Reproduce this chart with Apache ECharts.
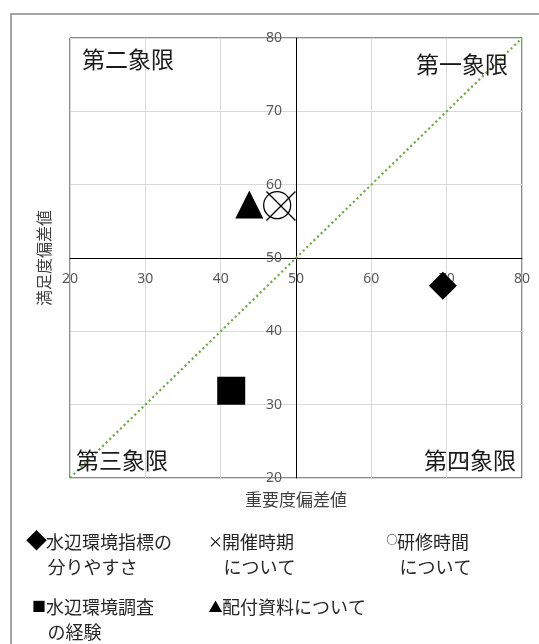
<!DOCTYPE html>
<html>
<head>
<meta charset="utf-8">
<script src="https://cdn.jsdelivr.net/npm/echarts@6/dist/echarts.min.js"></script>
<style>
  html, body { margin: 0; padding: 0; background: #fff; }
  #chart { width: 539px; height: 644px; }
</style>
</head>
<body>
<div id="chart"></div>
<script>
// 系列名と値（重要度偏差値 / 満足度偏差値）
const seriesNames = ["水辺環境指標の分りやすさ", "開催時期について", "研修時間について", "水辺環境調査の経験", "配付資料について"];
const importance = [69.5, 48.0, 47.5, 41.4, 43.8];
const satisfaction = [46.2, 57.1, 57.2, 31.9, 57.3];
const diagonal = [[20, 20], [80, 80]];
const axisMin = 20;
const axisMax = 80;
const axisStep = 10;
const quadrantNames = ["第一象限", "第二象限", "第三象限", "第四象限"];
const legendGlyphs = ["◆", "×", "○", "■", "▲"];
const legendLines = [
  ["水辺環境指標の", "分りやすさ"],
  ["開催時期", "について"],
  ["研修時間", "について"],
  ["水辺環境調査", "の経験"],
  ["配付資料について", ""]
];

const JP = "'Noto Sans CJK JP', 'Noto Sans', sans-serif";
const NUM = "'Noto Sans', 'DejaVu Sans', sans-serif";

const grid = { left: 70, top: 38, width: 452, height: 440 };

const symbols = [
  { symbol: "diamond", size: 28, fill: "#000", stroke: "#000", bw: 0 },
  { symbol: "path://M0,0L10,10M10,0L0,10", size: 29, fill: "none", stroke: "#000", bw: 1.3 },
  { symbol: "circle", size: 27, fill: "none", stroke: "#000", bw: 1.3 },
  { symbol: "rect", size: 28, fill: "#000", stroke: "#000", bw: 0 },
  { symbol: "triangle", size: 28, fill: "#000", stroke: "#000", bw: 0 }
];

const scatterSeries = seriesNames.map((name, i) => ({
  name,
  type: "scatter",
  symbol: symbols[i].symbol,
  symbolSize: symbols[i].size,
  data: [[importance[i], satisfaction[i]]],
  itemStyle: {
    color: symbols[i].fill,
    borderColor: symbols[i].stroke,
    borderWidth: symbols[i].bw,
    opacity: 1
  },
  z: 5
}));

// 凡例の位置
const legendPos = [
  { gx: 36.5, gy: 540, gs: 21, tx: 46, ty: 542.5, tx2: 47.5 },
  { gx: 215.5, gy: 541, gs: 15, tx: 222, ty: 542.5, tx2: 223.5 },
  { gx: 392, gy: 540, gs: 11, tx: 397, ty: 542.5, tx2: 399.5 },
  { gx: 39, gy: 606, gs: 14, tx: 46, ty: 607, tx2: 47.5 },
  { gx: 215.5, gy: 607, gs: 14, tx: 222, ty: 607, tx2: 222 }
];

const legendGraphics = [];
legendLines.forEach((lines, i) => {
  const p = legendPos[i];
  legendGraphics.push({
    type: "text", x: p.gx, y: p.gy,
    style: { text: legendGlyphs[i], font: p.gs + "px " + JP, fill: "#000", align: "center", verticalAlign: "middle" }
  });
  legendGraphics.push({
    type: "text", x: p.tx, y: p.ty,
    style: { text: lines[0], font: "18px " + JP, fill: "#262626", align: "left", verticalAlign: "middle" }
  });
  if (lines[1]) {
    legendGraphics.push({
      type: "text", x: p.tx2, y: p.ty + 25,
      style: { text: lines[1], font: "18px " + JP, fill: "#262626", align: "left", verticalAlign: "middle" }
    });
  }
});

const quadPos = [
  { x: 508, y: 64, align: "right" },
  { x: 82, y: 59, align: "left" },
  { x: 76, y: 460, align: "left" },
  { x: 516, y: 460, align: "right" }
];
const quadGraphics = quadrantNames.map((t, i) => ({
  type: "text", x: quadPos[i].x, y: quadPos[i].y, z: 10,
  style: { text: t, font: "23px " + JP, fill: "#1a1a1a", align: quadPos[i].align, verticalAlign: "middle" }
}));

const chart = echarts.init(document.getElementById("chart"));

const option = {
  animation: false,
  backgroundColor: "#fff",
  grid: {
    ...grid,
    show: true,
    borderColor: "#1a1a1a",
    borderWidth: 1,
    outerBoundsMode: "none"
  },
  xAxis: {
    type: "value",
    min: axisMin,
    max: axisMax,
    interval: axisStep,
    position: "bottom",
    offset: -grid.height / 2,
    name: "重要度偏差値",
    nameLocation: "middle",
    nameGap: 233,
    nameTextStyle: { fontFamily: JP, fontSize: 17, color: "#404040" },
    axisLine: { show: true, lineStyle: { color: "#000", width: 1 } },
    axisTick: { show: false },
    axisLabel: { margin: 14, fontFamily: NUM, fontSize: 14, color: "#595959" },
    splitLine: { show: true, lineStyle: { color: "#d9d9d9", width: 1 } }
  },
  yAxis: {
    type: "value",
    min: axisMin,
    max: axisMax,
    interval: axisStep,
    position: "left",
    offset: -grid.width / 2,
    name: "満足度偏差値",
    nameLocation: "middle",
    nameGap: 244,
    nameTextStyle: { fontFamily: JP, fontSize: 16, color: "#404040" },
    axisLine: { show: true, lineStyle: { color: "#000", width: 1 } },
    axisTick: { show: false },
    axisLabel: { margin: 14, fontFamily: NUM, fontSize: 14, color: "#595959" },
    splitLine: { show: true, lineStyle: { color: "#d9d9d9", width: 1 } }
  },
  series: [
    {
      name: "対角線",
      type: "line",
      data: diagonal,
      showSymbol: false,
      silent: true,
      lineStyle: { color: "#70ad47", width: 2.2, type: [2.2, 2.8] },
      z: 3
    },
    ...scatterSeries
  ],
  graphic: [
    {
      type: "rect",
      shape: { x: 11, y: 14, width: 620, height: 700 },
      style: { fill: "none", stroke: "#898989", lineWidth: 1.5 },
      z: -1
    },
    ...quadGraphics,
    ...legendGraphics
  ]
};

chart.setOption(option);
</script>
</body>
</html>
